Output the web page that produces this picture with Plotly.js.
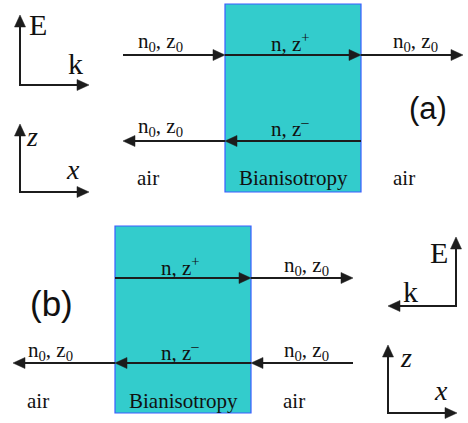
<!DOCTYPE html>
<html>
<head>
<meta charset="utf-8">
<script src="https://cdn.plot.ly/plotly-3.0.1.min.js"></script>
</head>
<body style="margin:0;background:#fff">
<div id="chart"></div>
<script>
// ---- text content ----
const panelLabels = ["(a)", "(b)"];
const mediumLabels = ["air", "Bianisotropy", "air"];
const waveAir = "n<sub>0</sub>, z<sub>0</sub>";
const waveForward = "n, z<sup>+</sup>";
const waveBackward = "n, z<sup>\u2013</sup>";
const fieldLabels = ["E", "k"];
const coordLabels = ["z", "x"];

const INK = "#1c1c1c";
const SERIF = "Liberation Serif";
const SANS = "Liberation Sans";

const shapes = [];
const annotations = [];

function addRect(x0, y0, x1, y1) {
  shapes.push({type: "rect", xref: "x", yref: "y", x0: x0, y0: y0, x1: x1, y1: y1,
    fillcolor: "#33cccc", line: {color: "#3a5cff", width: 1.2}, layer: "below"});
}
function addArrow(x0, y0, x1, y1) {
  const L = 12, H = 5.5;
  const dx = x1 - x0, dy = y1 - y0, len = Math.hypot(dx, dy);
  const ux = dx / len, uy = dy / len;
  const bx = x1 - ux * L, by = y1 - uy * L;
  shapes.push({type: "line", xref: "x", yref: "y", x0: x0, y0: y0, x1: bx + ux * 2, y1: by + uy * 2,
    line: {color: INK, width: 2}});
  const p1 = [bx - uy * H, by + ux * H], p2 = [bx + uy * H, by - ux * H];
  shapes.push({type: "path", xref: "x", yref: "y",
    path: "M" + x1 + "," + y1 + " L" + p1[0] + "," + p1[1] + " L" + p2[0] + "," + p2[1] + " Z",
    fillcolor: INK, line: {color: INK, width: 0.5}});
}
function addText(t, x, y, size, fam) {
  annotations.push({text: t, x: x, y: y, xref: "x", yref: "y", showarrow: false,
    xanchor: "center", yanchor: "middle",
    font: {family: fam, size: size, color: "#111111"}});
}
function addCorner(cx, cy, upTip, sideTip) {
  addArrow(cx, cy + 1, cx, upTip);
  addArrow(cx + (sideTip > cx ? -1 : 1), cy, sideTip, cy);
}

// ---- panel (a) ----
addRect(225, 4, 361, 192);
addArrow(123, 55, 225, 55);
addArrow(225, 55, 361, 55);
addArrow(361, 55, 463, 55);
addArrow(361, 141, 225, 141);
addArrow(225, 141, 123, 141);
addText(waveAir, 160, 42, 21, SERIF);
addText(waveForward, 290, 42, 21, SERIF);
addText(waveAir, 415, 42, 21, SERIF);
addText(waveAir, 160, 127, 21, SERIF);
addText(waveBackward, 290, 127, 21, SERIF);
addText(mediumLabels[0], 148, 178, 21, SERIF);
addText(mediumLabels[1], 293, 178, 21, SERIF);
addText(mediumLabels[2], 404, 178, 21, SERIF);
addText(panelLabels[0], 428, 108, 31, SANS);
addCorner(20, 85, 15, 89);
addText(fieldLabels[0], 38, 24, 30, SERIF);
addText(fieldLabels[1], 75, 63, 30, SERIF);
addCorner(20, 192, 124, 89);
addText("<i>" + coordLabels[0] + "</i>", 32, 136, 28, SERIF);
addText("<i>" + coordLabels[1] + "</i>", 73, 169, 28, SERIF);

// ---- panel (b) ----
addRect(115, 226, 251, 413);
addArrow(115, 278, 251, 278);
addArrow(251, 278, 353, 278);
addArrow(353, 363, 251, 363);
addArrow(251, 363, 115, 363);
addArrow(115, 363, 13, 363);
addText(waveForward, 180, 266, 21, SERIF);
addText(waveAir, 306, 266, 21, SERIF);
addText(waveAir, 50, 351, 21, SERIF);
addText(waveBackward, 180, 351, 21, SERIF);
addText(waveAir, 306, 351, 21, SERIF);
addText(mediumLabels[0], 38, 401, 21, SERIF);
addText(mediumLabels[1], 183, 401, 21, SERIF);
addText(mediumLabels[2], 294, 401, 21, SERIF);
addText(panelLabels[1], 51, 303, 35, SANS);
addCorner(456, 306, 237, 388);
addText(fieldLabels[0], 439, 252, 30, SERIF);
addText(fieldLabels[1], 410, 291, 30, SERIF);
addCorner(388, 413, 345, 457);
addText("<i>" + coordLabels[0] + "</i>", 406, 357, 28, SERIF);
addText("<i>" + coordLabels[1] + "</i>", 441, 390, 28, SERIF);

const layout = {
  width: 468, height: 423,
  margin: {l: 0, r: 0, t: 0, b: 0, pad: 0},
  paper_bgcolor: "#ffffff", plot_bgcolor: "#ffffff",
  font: {family: SERIF},
  xaxis: {range: [0, 468], visible: false, fixedrange: true},
  yaxis: {range: [423, 0], visible: false, fixedrange: true},
  showlegend: false,
  shapes: shapes, annotations: annotations
};
Plotly.newPlot("chart", [], layout, {displayModeBar: false});
</script>
</body>
</html>
